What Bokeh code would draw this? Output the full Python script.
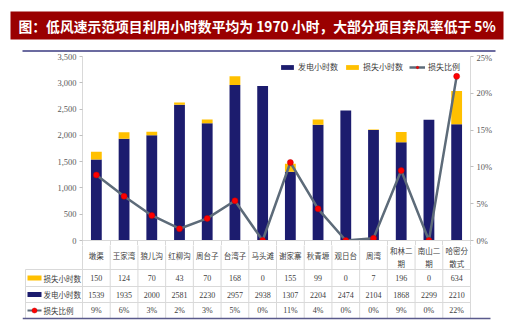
from bokeh.plotting import figure
from bokeh.layouts import column
from bokeh.models import (Range1d, LinearAxis, NumeralTickFormatter, PrintfTickFormatter,
                          ColumnDataSource, Legend, LegendItem, FixedTicker)
from bokeh.embed import file_html
from bokeh.resources import INLINE
from bokeh.core.properties import value

# ---------------- data ----------------
title_text = "图：低风速示范项目利用小时数平均为 1970 小时，大部分项目弃风率低于 5%"
categories = ["墩渠", "王家湾", "狼儿沟", "红柳沟", "周台子", "台湾子", "马头滩",
              "谢家寨", "秋青塬", "观日台", "周湾", "和林二期", "南山二期", "哈密分散式"]
gen_hours = [1539, 1935, 2000, 2581, 2230, 2957, 2938, 1307, 2204, 2474, 2104, 1868, 2299, 2210]
loss_hours = [150, 124, 70, 43, 70, 168, 0, 155, 99, 0, 7, 196, 0, 634]
loss_ratio = [8.9, 6.0, 3.4, 1.6, 3.0, 5.4, 0.0, 10.6, 4.3, 0.0, 0.3, 9.5, 0.0, 22.3]
ratio_labels = ["9%", "6%", "3%", "2%", "3%", "5%", "0%", "11%", "4%", "0%", "0%", "9%", "0%", "22%"]
left_ticks = [0, 500, 1000, 1500, 2000, 2500, 3000, 3500]
right_ticks = [0, 5, 10, 15, 20, 25]
series_names = ["发电小时数", "损失小时数", "损失比例"]

# ---------------- style ----------------
NAVY = "#1C1C6E"
YELLOW = "#FFC000"
LINEC = "#5D6B79"
RED = "#FF0000"
GRID = "#D9D9D9"
TXT = "#404040"
CJK = "Noto Sans CJK SC"
SERIF = "Liberation Serif"

n = len(categories)
xs = [i + 0.5 for i in range(n)]
FL, FR = 82, 470
k = (FR - FL) / n
BB = 5  # bottom border of chart figure (holds x-axis separators)


def px(p):
    return (p - FL) / k


common = dict(output_backend="svg", toolbar_location=None, frame_align=False)

# ---------------- title ----------------
t = figure(width=520, height=52, x_range=Range1d(0, 520), y_range=Range1d(52, 0),
           x_axis_location=None, y_axis_location=None, min_border=0, **common)
t.grid.visible = False
t.outline_line_color = None
t.quad(left=[10], right=[503], top=[11], bottom=[39], fill_color="#9A0000", line_color=None)
t.text(x=[18], y=[25.5], text=[title_text], text_font=value(CJK), text_font_size="13.8px",
       text_color="white", text_baseline="middle", text_font_style="bold")
t.segment(x0=[22], y0=[50.5], x1=[495], y1=[50.5], line_color="#3A3A80", line_width=1.5)

# ---------------- chart ----------------
c = figure(width=520, height=188 + BB, x_range=Range1d(0, n), y_range=Range1d(0, 3500),
           x_axis_location=None, min_border_left=FL, min_border_right=520 - FR,
           min_border_top=4, min_border_bottom=BB, **common)
c.grid.visible = False
c.outline_line_color = None
c.extra_y_ranges = {"pct": Range1d(0, 25)}

src = ColumnDataSource(dict(x=xs, gen=gen_hours, loss=loss_hours, ratio=loss_ratio))
rs = c.vbar_stack(["gen", "loss"], x="x", width=0.39, color=[NAVY, YELLOW], source=src,
                  line_color=None)
ln = c.line("x", "ratio", source=src, y_range_name="pct", line_color=LINEC, line_width=2.5)
sc = c.scatter("x", "ratio", source=src, y_range_name="pct", size=6, fill_color=RED,
               line_color="#C00000", line_width=0.5)

ya = c.yaxis[0]
ya.ticker = FixedTicker(ticks=left_ticks)
ya.formatter = NumeralTickFormatter(format="0,0")

ra = LinearAxis(y_range_name="pct", ticker=FixedTicker(ticks=right_ticks),
                formatter=PrintfTickFormatter(format="%d%%"))
c.add_layout(ra, "right")

for ax in (ya, ra):
    ax.axis_line_color = GRID
    ax.major_tick_line_color = "#BFBFBF"
    ax.major_tick_out = 3
    ax.major_tick_in = 0
    ax.minor_tick_line_color = None
    ax.major_label_text_font = SERIF
    ax.major_label_text_font_size = "8.5px"
    ax.major_label_text_color = "#595959"
    ax.major_label_standoff = 3

# bottom axis: the category separators of the first table row
xa = LinearAxis(ticker=FixedTicker(ticks=list(range(n + 1))))
xa.axis_line_color = GRID
xa.major_tick_line_color = GRID
xa.major_tick_out = BB
xa.major_tick_in = 0
xa.minor_tick_line_color = None
xa.major_label_text_font_size = "0px"
xa.major_label_text_alpha = 0
xa.major_label_standoff = 0
c.add_layout(xa, "below")

leg = Legend(items=[LegendItem(label=series_names[0], renderers=[rs[0]]),
                    LegendItem(label=series_names[1], renderers=[rs[1]]),
                    LegendItem(label=series_names[2], renderers=[ln, sc])],
             location=(197, 168), orientation="horizontal", padding=0, margin=0,
             spacing=6, label_standoff=3, glyph_width=16, glyph_height=6,
             label_height=10, label_text_font=CJK, label_text_font_size="8px",
             label_text_color=TXT, border_line_color=None, background_fill_alpha=0)
c.add_layout(leg)

# ---------------- table ----------------
TL, TR = 22, 495
tb = figure(width=520, height=95 - BB, x_range=Range1d(px(TL), px(TR)), y_range=Range1d(95, BB),
            x_axis_location=None, y_axis_location=None, min_border_left=TL,
            min_border_right=520 - TR, min_border_top=0, min_border_bottom=0, **common)
tb.grid.visible = False
tb.outline_line_color = None

row_lines = [29, 46, 62]
bottom_y = 78
tb.segment(x0=list(range(n + 1)), y0=[0] * (n + 1), x1=list(range(n + 1)),
           y1=[bottom_y] * (n + 1), line_color=GRID, line_width=1)
tb.segment(x0=[px(25)], y0=[row_lines[0]], x1=[px(25)], y1=[bottom_y], line_color=GRID, line_width=1)
tb.segment(x0=[px(25)] * 3, y0=row_lines, x1=[n] * 3, y1=row_lines, line_color=GRID, line_width=1)
tb.segment(x0=[px(22)], y0=[bottom_y], x1=[px(490)], y1=[bottom_y], line_color="#5A5A8C",
           line_width=1.5)

# category names (wrap after 3 chars)
one_x, one_t, two_x, two_a, two_b = [], [], [], [], []
for i, name in enumerate(categories):
    if len(name) > 3:
        two_x.append(xs[i]); two_a.append(name[:3]); two_b.append(name[3:])
    else:
        one_x.append(xs[i]); one_t.append(name)
cat_kw = dict(text_font=value(CJK), text_font_size="7.5px", text_color=TXT,
              text_align="center", text_baseline="middle")
tb.text(x=one_x, y=[15] * len(one_x), text=one_t, **cat_kw)
tb.text(x=two_x, y=[10] * len(two_x), text=two_a, **cat_kw)
tb.text(x=two_x, y=[23] * len(two_x), text=two_b, **cat_kw)

row_y = [37.5, 54, 70]
num_kw = dict(text_font=value(SERIF), text_font_size="8px", text_color=TXT,
              text_align="center", text_baseline="middle")
tb.text(x=xs, y=[row_y[0]] * n, text=[str(v) for v in loss_hours], **num_kw)
tb.text(x=xs, y=[row_y[1]] * n, text=[str(v) for v in gen_hours], **num_kw)
tb.text(x=xs, y=[row_y[2]] * n, text=ratio_labels, **num_kw)

# row legends
tb.quad(left=[px(27)], right=[px(41)], top=[row_y[0] - 2.5], bottom=[row_y[0] + 2.5],
        fill_color=YELLOW, line_color=None)
tb.quad(left=[px(27)], right=[px(41)], top=[row_y[1] - 2.5], bottom=[row_y[1] + 2.5],
        fill_color=NAVY, line_color=None)
tb.segment(x0=[px(27)], y0=[row_y[2]], x1=[px(41)], y1=[row_y[2]], line_color=LINEC, line_width=2)
tb.scatter(x=[px(34)], y=[row_y[2]], size=5, fill_color=RED, line_color="#C00000", line_width=0.5)
tb.text(x=[px(43)] * 3, y=row_y, text=[series_names[1], series_names[0], series_names[2]],
        text_font=value(CJK), text_font_size="7.5px", text_color=TXT,
        text_align="left", text_baseline="middle")

layout = column(t, c, tb, spacing=0)
open("out.html", "w").write(file_html(layout, INLINE))
